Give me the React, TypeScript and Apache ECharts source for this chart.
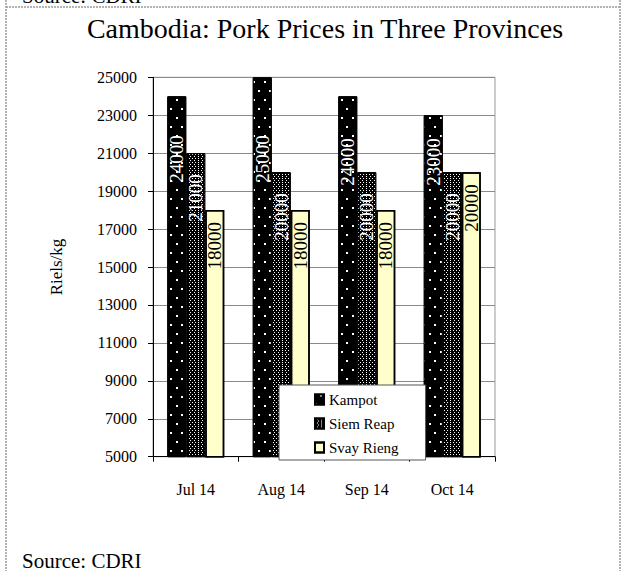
import React, { useEffect, useRef } from "react";
import * as echarts from "echarts";

const categories = ["Jul 14", "Aug 14", "Sep 14", "Oct 14"];
const kampot = [24000, 25000, 24000, 23000];
const siemReap = [21000, 20000, 20000, 20000];
const svayRieng = [18000, 18000, 18000, 20000];
const seriesNames = ["Kampot", "Siem Reap", "Svay Rieng"];
const yMin = 5000;
const yMax = 25000;
const yStep = 2000;
const titleText = "Cambodia: Pork Prices in Three Provinces";
const yAxisTitle = "Riels/kg";
const sourceText = "Source: CDRI";

// label gaps (style only)
const kampotLabelGap = [39, 58, 42, 23];

const FONT = "'Liberation Serif', 'Times New Roman', serif";

export default function App() {
  const ref = useRef<HTMLDivElement>(null);
  useEffect(() => {
    if (!ref.current) return;
    const chart = echarts.init(ref.current, undefined, { renderer: "svg" });
    const border = "#9a9a9a";
    const labelBase = {
      show: true,
      position: "insideTop",
      rotate: 90,
      align: "right",
      verticalAlign: "middle",
      fontFamily: FONT,
      fontSize: 19,
    };
    chart.setOption({
      animation: false,
      backgroundColor: "#ffffff",
      aria: { enabled: true, decal: { show: true } },
      title: {
        text: titleText,
        left: 320,
        top: 9,
        textAlign: "center",
        textStyle: { fontFamily: FONT, fontSize: 28, fontWeight: "normal", color: "#000" },
      },
      legend: {
        orient: "vertical",
        left: 279,
        top: 385,
        padding: [7, 27, 5, 35],
        itemGap: 9,
        itemWidth: 9,
        itemHeight: 10,
        backgroundColor: "#ffffff",
        borderColor: "#555",
        borderWidth: 1,
        icon: "rect",
        textStyle: { fontFamily: FONT, fontSize: 15, color: "#000" },
        data: seriesNames,
      },
      grid: {
        left: 153,
        right: 126,
        top: 77.3,
        bottom: 114.3,
        show: true,
        borderColor: border,
        borderWidth: 1,
        backgroundColor: "#fff",
      },
      xAxis: {
        type: "category",
        data: categories,
        axisLine: { lineStyle: { color: "#000", width: 1 } },
        axisTick: { show: true, length: 5, lineStyle: { color: "#000" } },
        axisLabel: { fontFamily: FONT, fontSize: 16, color: "#000", margin: 25 },
      },
      yAxis: {
        type: "value",
        min: yMin,
        max: yMax,
        interval: yStep,
        name: yAxisTitle,
        nameLocation: "middle",
        nameGap: 88,
        nameTextStyle: { fontFamily: FONT, fontSize: 17, color: "#000" },
        axisLine: { show: true, lineStyle: { color: "#000", width: 1 } },
        axisTick: { show: true, length: 5, lineStyle: { color: "#000" } },
        axisLabel: {
          fontFamily: FONT,
          fontSize: 16,
          color: "#000",
          margin: 16,
          formatter: (v: number) => String(v),
        },
        splitLine: { show: true, lineStyle: { color: "#8a8a8a", width: 1 } },
      },
      series: [
        {
          name: seriesNames[0],
          type: "bar",
          barWidth: 19,
          barGap: "0%",
          data: kampot.map((v, i) => ({
            value: v,
            label: { distance: kampotLabelGap[i] },
          })),
          itemStyle: {
            color: "#000",
            borderColor: "#000",
            borderWidth: 1,
            decal: {
              symbol: "rect",
              symbolSize: 1,
              color: "#ffffff",
              dashArrayX: [[1.5, 8.5], [0, 5, 1.5, 3.5]],
              dashArrayY: [1.5, 6.5],
              rotation: 0,
            },
          },
          label: { ...labelBase, color: "#fff" },
        },
        {
          name: seriesNames[1],
          type: "bar",
          barWidth: 19,
          barGap: "0%",
          data: siemReap,
          itemStyle: {
            color: "#000",
            borderColor: "#000",
            borderWidth: 1,
            decal: {
              symbol: "rect",
              symbolSize: 1,
              color: "#ffffff",
              dashArrayX: [[1, 2], [0, 1.5, 1, 0.5]],
              dashArrayY: [1, 1],
              rotation: 0,
            },
          },
          label: { ...labelBase, color: "#fff", distance: 21 },
        },
        {
          name: seriesNames[2],
          type: "bar",
          barWidth: 19,
          barGap: "0%",
          data: svayRieng,
          itemStyle: {
            color: "#FFFFCC",
            borderColor: "#000",
            borderWidth: 1.5,
            decal: {
              symbol: "rect",
              symbolSize: 1,
              color: "rgba(255,255,204,0)",
              dashArrayX: [1, 0],
              dashArrayY: [1, 0],
              rotation: 0,
            },
          },
          label: { ...labelBase, color: "#000", distance: 12 },
        },
      ],
      graphic: [
        {
          type: "line",
          shape: { x1: 6, y1: 7, x2: 620, y2: 7 },
          style: { stroke: border, lineWidth: 1.5, lineDash: [2, 1] },
        },
        {
          type: "line",
          shape: { x1: 6, y1: 0, x2: 6, y2: 571 },
          style: { stroke: border, lineWidth: 1.5, lineDash: [2, 1] },
        },
        {
          type: "line",
          shape: { x1: 620, y1: 0, x2: 620, y2: 571 },
          style: { stroke: border, lineWidth: 1.5, lineDash: [2, 1] },
        },
        {
          type: "text",
          x: 22,
          y: -15,
          style: { text: sourceText, fontFamily: FONT, fontSize: 21, fill: "#000", verticalAlign: "top" },
        },
        {
          type: "text",
          x: 22,
          y: 550,
          style: { text: sourceText, fontFamily: FONT, fontSize: 21, fill: "#000", verticalAlign: "top" },
        },
      ],
    });
    return () => chart.dispose();
  }, []);
  return (
    <div
      ref={ref}
      style={{ position: "absolute", left: 0, top: 0, width: 621, height: 571 }}
    />
  );
}
